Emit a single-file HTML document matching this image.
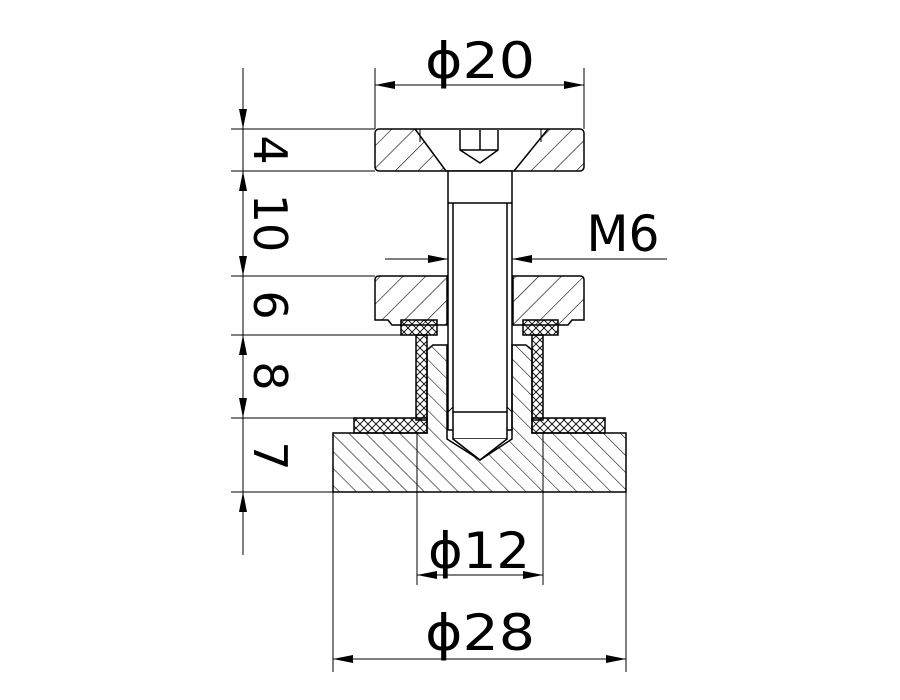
<!DOCTYPE html>
<html><head><meta charset="utf-8"><style>
html,body{margin:0;padding:0;background:#fff;width:900px;height:700px;overflow:hidden}
text{font-family:"DejaVu Sans","Liberation Sans",sans-serif;fill:#000}
</style></head><body>
<svg width="900" height="700" viewBox="0 0 900 700" xmlns="http://www.w3.org/2000/svg">
<defs>
<pattern id="h" patternUnits="userSpaceOnUse" width="16" height="16" patternTransform="rotate(45)">
<line x1="0" y1="0" x2="0" y2="16" stroke="#000" stroke-width="1.2"/></pattern>
<pattern id="hb" patternUnits="userSpaceOnUse" width="12" height="12" patternTransform="rotate(-45)">
<line x1="0" y1="0" x2="0" y2="12" stroke="#000" stroke-width="1.1"/></pattern>
<pattern id="x" patternUnits="userSpaceOnUse" width="8" height="8">
<path d="M0,0L8,8M8,0L0,8" stroke="#000" stroke-width="0.9"/></pattern>
<marker id="a" viewBox="0 0 20 8" refX="20" refY="4" markerWidth="20" markerHeight="8" markerUnits="userSpaceOnUse" orient="auto"><path d="M0,0L20,4L0,8z" fill="#000"/></marker>
</defs>
<g stroke="#000" fill="none" stroke-width="1">
<path d="M231,129H375M231,171H375M231,276H375M231,335H401M231,418H354M231,492H333"/>
<path d="M243,68V555"/>
</g>
<g stroke="#000" stroke-width="1" fill="none" marker-end="url(#a)">
<path d="M243,100V129"/><path d="M243,200V171"/>
<path d="M243,250V276"/><path d="M243,365V335"/>
<path d="M243,390V418"/><path d="M243,520V492"/>
</g>
<g font-size="46">
<text transform="translate(248,150) rotate(90)" text-anchor="middle" x="0" y="-6">4</text>
<text transform="translate(248,223) rotate(90)" text-anchor="middle" x="0" y="-6">10</text>
<text transform="translate(248,305) rotate(90)" text-anchor="middle" x="0" y="-6">6</text>
<text transform="translate(248,376) rotate(90)" text-anchor="middle" x="0" y="-6">8</text>
<text transform="translate(248,456) rotate(90)" text-anchor="middle" x="0" y="-6">7</text>
</g>
<g stroke="#000" stroke-width="1.5">
<!-- top cap -->
<path d="M379,129H415L446,171H375V133Q375,129 379,129Z" fill="url(#h)" stroke="none"/>
<path d="M548,129H580Q584,129 584,133V171H514Z" fill="url(#h)" stroke="none"/>
<rect x="375" y="129" width="209" height="42" rx="4" fill="none"/>
<path d="M415,129L446,171M548,129L514,171" fill="none"/>
<path d="M420,129V142M541,129V142" fill="none" stroke-width="1"/>
<path d="M460,130V150L480,163L498,150V130M460,150H498M480,130V150" fill="none"/>
<!-- bolt -->
<rect x="448" y="171" width="64" height="259" fill="#fff"/>
<path d="M448,203H512M453,203V412M507,203V412" fill="none"/>
<!-- middle cap -->
<path d="M379,276H447V325H392L388,320H375V280Q375,276 379,276Z" fill="url(#h)"/>
<path d="M513,276H580Q584,276 584,280V320H572L568,325H513Z" fill="url(#h)"/>
<rect x="401" y="320" width="36" height="15" fill="url(#x)"/>
<rect x="523" y="320" width="35" height="15" fill="url(#x)"/>
<rect x="416" y="335" width="11" height="85" fill="url(#x)"/>
<rect x="532" y="335" width="11" height="85" fill="url(#x)"/>
<rect x="354" y="418" width="73" height="15" fill="url(#x)"/>
<rect x="532" y="418" width="73" height="15" fill="url(#x)"/>
<!-- base -->
<path d="M333,433H427V350L433,345H447V439L480,460L512,439V345H526L532,350V433H626V492H333Z" fill="url(#hb)"/>
<path d="M453,412H507V439H453Z" fill="#fff"/>
<path d="M453,439L480,460L507,439" fill="#fff"/>
<path d="M448,412L453,407M512,412L507,407" fill="none" stroke-width="1"/>
</g>
<g stroke="#000" stroke-width="1" fill="none">
<path d="M375,68V129M584,68V129M417,433V585M543,433V585M333,492V672M626,492V672"/>
<path d="M385,259H448M512,259H667"/>
</g>
<g stroke="#000" stroke-width="1" fill="none" marker-end="url(#a)">
<path d="M480,85H375"/><path d="M480,85H584"/>
<path d="M480,575H417"/><path d="M480,575H543"/>
<path d="M480,659H333"/><path d="M480,659H626"/>
<path d="M400,259H448"/><path d="M560,259H512"/>
</g>
<g font-size="50">
<text x="480" y="78" text-anchor="middle" textLength="110" lengthAdjust="spacingAndGlyphs">ϕ20</text>
<text x="479" y="568" text-anchor="middle" textLength="102" lengthAdjust="spacingAndGlyphs">ϕ12</text>
<text x="480" y="650" text-anchor="middle" textLength="110" lengthAdjust="spacingAndGlyphs">ϕ28</text>
<text x="623" y="251" text-anchor="middle" textLength="73" lengthAdjust="spacingAndGlyphs">M6</text>
</g>
</svg>
</body></html>
